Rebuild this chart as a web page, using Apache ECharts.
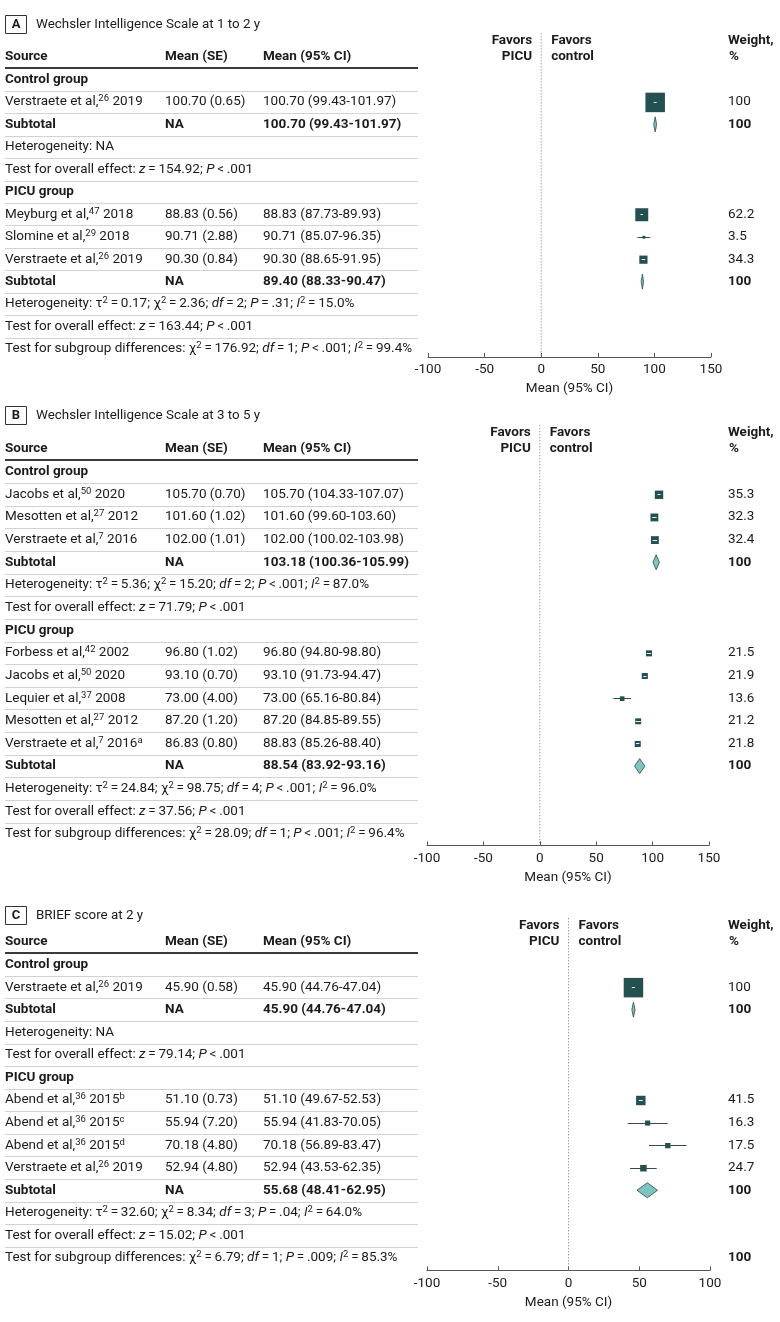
<!DOCTYPE html>
<html><head><meta charset="utf-8">
<script src="https://cdn.jsdelivr.net/npm/echarts@6/dist/echarts.min.js"></script>
<style>html,body{margin:0;padding:0;background:#fff}#c{width:780px;height:1322px}</style>
</head><body><div id="c"></div>
<script>
const FONT = 'Roboto, "Noto Sans", sans-serif';
const T = '\u2009';

// ---------- Panel A ----------
const A_title = 'Wechsler Intelligence Scale at 1 to 2 y';
const A_ctrl_author = ['Verstraete et al,'];
const A_ctrl_ref = ['26'];
const A_ctrl_year = ['2019'];
const A_ctrl_note = [''];
const A_ctrl_mean = [100.70];
const A_ctrl_se = [0.65];
const A_ctrl_lo = [99.43];
const A_ctrl_hi = [101.97];
const A_ctrl_weight = [100];
const A_ctrl_subtotal = [100.70, 99.43, 101.97];
const A_ctrl_het = 'Heterogeneity: NA';
const A_ctrl_test = `Test for overall effect: {i|z}${T}=${T}154.92; {i|P}${T}<${T}.001`;

const A_picu_author = ['Meyburg et al,', 'Slomine et al,', 'Verstraete et al,'];
const A_picu_ref = ['47', '29', '26'];
const A_picu_year = ['2018', '2018', '2019'];
const A_picu_note = ['', '', ''];
const A_picu_mean = [88.83, 90.71, 90.30];
const A_picu_se = [0.56, 2.88, 0.84];
const A_picu_lo = [87.73, 85.07, 88.65];
const A_picu_hi = [89.93, 96.35, 91.95];
const A_picu_weight = [62.2, 3.5, 34.3];
const A_picu_subtotal = [89.40, 88.33, 90.47];
const A_picu_het = `Heterogeneity: τ{sup|2}${T}=${T}0.17; χ{sup|2}${T}=${T}2.36; {i|df}${T}=${T}2; {i|P}${T}=${T}.31; {i|I}{sup|2}${T}=${T}15.0%`;
const A_picu_test = `Test for overall effect: {i|z}${T}=${T}163.44; {i|P}${T}<${T}.001`;
const A_subgroup = `Test for subgroup differences: χ{sup|2}${T}=${T}176.92; {i|df}${T}=${T}1; {i|P}${T}<${T}.001; {i|I}{sup|2}${T}=${T}99.4%`;
const A_subgroup_weight = '';
const A_ticks = [-100, 150, 50];

// ---------- Panel B ----------
const B_title = 'Wechsler Intelligence Scale at 3 to 5 y';
const B_ctrl_author = ['Jacobs et al,', 'Mesotten et al,', 'Verstraete et al,'];
const B_ctrl_ref = ['50', '27', '7'];
const B_ctrl_year = ['2020', '2012', '2016'];
const B_ctrl_note = ['', '', ''];
const B_ctrl_mean = [105.70, 101.60, 102.00];
const B_ctrl_se = [0.70, 1.02, 1.01];
const B_ctrl_lo = [104.33, 99.60, 100.02];
const B_ctrl_hi = [107.07, 103.60, 103.98];
const B_ctrl_weight = [35.3, 32.3, 32.4];
const B_ctrl_subtotal = [103.18, 100.36, 105.99];
const B_ctrl_het = `Heterogeneity: τ{sup|2}${T}=${T}5.36; χ{sup|2}${T}=${T}15.20; {i|df}${T}=${T}2; {i|P}${T}<${T}.001; {i|I}{sup|2}${T}=${T}87.0%`;
const B_ctrl_test = `Test for overall effect: {i|z}${T}=${T}71.79; {i|P}${T}<${T}.001`;

const B_picu_author = ['Forbess et al,', 'Jacobs et al,', 'Lequier et al,', 'Mesotten et al,', 'Verstraete et al,'];
const B_picu_ref = ['42', '50', '37', '27', '7'];
const B_picu_year = ['2002', '2020', '2008', '2012', '2016'];
const B_picu_note = ['', '', '', '', 'a'];
const B_picu_mean = [96.80, 93.10, 73.00, 87.20, 86.83];
const B_picu_ciMean = [96.80, 93.10, 73.00, 87.20, 88.83];
const B_picu_se = [1.02, 0.70, 4.00, 1.20, 0.80];
const B_picu_lo = [94.80, 91.73, 65.16, 84.85, 85.26];
const B_picu_hi = [98.80, 94.47, 80.84, 89.55, 88.40];
const B_picu_weight = [21.5, 21.9, 13.6, 21.2, 21.8];
const B_picu_subtotal = [88.54, 83.92, 93.16];
const B_picu_het = `Heterogeneity: τ{sup|2}${T}=${T}24.84; χ{sup|2}${T}=${T}98.75; {i|df}${T}=${T}4; {i|P}${T}<${T}.001; {i|I}{sup|2}${T}=${T}96.0%`;
const B_picu_test = `Test for overall effect: {i|z}${T}=${T}37.56; {i|P}${T}<${T}.001`;
const B_subgroup = `Test for subgroup differences: χ{sup|2}${T}=${T}28.09; {i|df}${T}=${T}1; {i|P}${T}<${T}.001; {i|I}{sup|2}${T}=${T}96.4%`;
const B_subgroup_weight = '';
const B_ticks = [-100, 150, 50];

// ---------- Panel C ----------
const C_title = 'BRIEF score at 2 y';
const C_ctrl_author = ['Verstraete et al,'];
const C_ctrl_ref = ['26'];
const C_ctrl_year = ['2019'];
const C_ctrl_note = [''];
const C_ctrl_mean = [45.90];
const C_ctrl_se = [0.58];
const C_ctrl_lo = [44.76];
const C_ctrl_hi = [47.04];
const C_ctrl_weight = [100];
const C_ctrl_subtotal = [45.90, 44.76, 47.04];
const C_ctrl_het = 'Heterogeneity: NA';
const C_ctrl_test = `Test for overall effect: {i|z}${T}=${T}79.14; {i|P}${T}<${T}.001`;

const C_picu_author = ['Abend et al,', 'Abend et al,', 'Abend et al,', 'Verstraete et al,'];
const C_picu_ref = ['36', '36', '36', '26'];
const C_picu_year = ['2015', '2015', '2015', '2019'];
const C_picu_note = ['b', 'c', 'd', ''];
const C_picu_mean = [51.10, 55.94, 70.18, 52.94];
const C_picu_se = [0.73, 7.20, 4.80, 4.80];
const C_picu_lo = [49.67, 41.83, 56.89, 43.53];
const C_picu_hi = [52.53, 70.05, 83.47, 62.35];
const C_picu_weight = [41.5, 16.3, 17.5, 24.7];
const C_picu_subtotal = [55.68, 48.41, 62.95];
const C_picu_het = `Heterogeneity: τ{sup|2}${T}=${T}32.60; χ{sup|2}${T}=${T}8.34; {i|df}${T}=${T}3; {i|P}${T}=${T}.04; {i|I}{sup|2}${T}=${T}64.0%`;
const C_picu_test = `Test for overall effect: {i|z}${T}=${T}15.02; {i|P}${T}<${T}.001`;
const C_subgroup = `Test for subgroup differences: χ{sup|2}${T}=${T}6.79; {i|df}${T}=${T}1; {i|P}${T}=${T}.009; {i|I}{sup|2}${T}=${T}85.3%`;
const C_subgroup_weight = '100';
const C_ticks = [-100, 100, 50];

// ---------- styles ----------
const TXT = '#1b1b1b';
const SQ = '#24504f';
const CI_LINE = '#2f4d4d';
const DIA_FILL = '#80c4c2';
const DIA_STROKE = '#2b4747';
const FS = 13.5;
const RICH = {
  sup: { fontFamily: FONT, fontSize: 9.5, fontWeight: 'normal', lineHeight: 10, verticalAlign: 'top', fill: TXT },
  i: { fontFamily: FONT, fontSize: FS, fontStyle: 'italic', fontWeight: 'normal', lineHeight: 16, fill: TXT }
};

function grp(name, author, ref, year, note, mean, se, lo, hi, weight, sub, het, test, ciMean) {
  return { name, author, ref, year, note, mean, se, lo, hi, weight, sub, het, test, ciMean: ciMean || mean };
}

function buildRows(groups, subgroup, subW) {
  const rows = [];
  let r = 0;
  rows.push({ row: r++, kind: 'header' });
  groups.forEach(g => {
    rows.push({ row: r++, kind: 'group', label: g.name });
    g.author.forEach((a, i) => rows.push({
      row: r++, kind: 'study', author: a, ref: g.ref[i], year: g.year[i], note: g.note[i],
      mean: g.mean[i], ciMean: g.ciMean[i], se: g.se[i], lo: g.lo[i], hi: g.hi[i], w: g.weight[i]
    }));
    rows.push({ row: r++, kind: 'subtotal', mean: g.sub[0], lo: g.sub[1], hi: g.sub[2], w: '100' });
    rows.push({ row: r++, kind: 'het', text: g.het });
    rows.push({ row: r++, kind: 'test', text: g.test });
  });
  rows.push({ row: r++, kind: 'subgroup', text: subgroup, w: subW, last: true });
  return rows;
}

const panels = [
  { title: A_title, letter: 'A', titleY: 25, ticks: A_ticks,
    rows: buildRows([
      grp('Control group', A_ctrl_author, A_ctrl_ref, A_ctrl_year, A_ctrl_note, A_ctrl_mean, A_ctrl_se, A_ctrl_lo, A_ctrl_hi, A_ctrl_weight, A_ctrl_subtotal, A_ctrl_het, A_ctrl_test),
      grp('PICU group', A_picu_author, A_picu_ref, A_picu_year, A_picu_note, A_picu_mean, A_picu_se, A_picu_lo, A_picu_hi, A_picu_weight, A_picu_subtotal, A_picu_het, A_picu_test)
    ], A_subgroup, A_subgroup_weight),
    left: 428, width: 283, top: 33.4, height: 323.5, ymin: -1.05, ymax: 13.35 },
  { title: B_title, letter: 'B', titleY: 416, ticks: B_ticks,
    rows: buildRows([
      grp('Control group', B_ctrl_author, B_ctrl_ref, B_ctrl_year, B_ctrl_note, B_ctrl_mean, B_ctrl_se, B_ctrl_lo, B_ctrl_hi, B_ctrl_weight, B_ctrl_subtotal, B_ctrl_het, B_ctrl_test),
      grp('PICU group', B_picu_author, B_picu_ref, B_picu_year, B_picu_note, B_picu_mean, B_picu_se, B_picu_lo, B_picu_hi, B_picu_weight, B_picu_subtotal, B_picu_het, B_picu_test, B_picu_ciMean)
    ], B_subgroup, B_subgroup_weight),
    left: 427, width: 282, top: 425.2, height: 420.2, ymin: -1.05, ymax: 17.5 },
  { title: C_title, letter: 'C', titleY: 916, ticks: C_ticks,
    rows: buildRows([
      grp('Control group', C_ctrl_author, C_ctrl_ref, C_ctrl_year, C_ctrl_note, C_ctrl_mean, C_ctrl_se, C_ctrl_lo, C_ctrl_hi, C_ctrl_weight, C_ctrl_subtotal, C_ctrl_het, C_ctrl_test),
      grp('PICU group', C_picu_author, C_picu_ref, C_picu_year, C_picu_note, C_picu_mean, C_picu_se, C_picu_lo, C_picu_hi, C_picu_weight, C_picu_subtotal, C_picu_het, C_picu_test)
    ], C_subgroup, C_subgroup_weight),
    left: 427, width: 283, top: 918.3, height: 352.1, ymin: -1.05, ymax: 14.55 }
];

const COL_SRC = 5, COL_SE = 165, COL_CI = 263, COL_W = 728, LINE_R = 418;
const f2 = v => v.toFixed(2);

function textEl(x, y, text, bold, align) {
  return {
    type: 'text',
    style: {
      x, y, text, fill: TXT, fontFamily: FONT, fontSize: FS, fontWeight: bold ? 'bold' : 'normal',
      lineHeight: 16, align: align || 'left', verticalAlign: 'middle', rich: RICH
    }
  };
}

function makeRenderer(rows) {
  return function (params, api) {
    const r = rows[params.dataIndex];
    const y = api.coord([0, r.row])[1];
    const step = api.size([0, 1])[1];
    const ch = [];
    const sepY = Math.round(y + step / 2) + 0.5;
    if (r.kind === 'header') {
      const zx = api.coord([0, 0])[0];
      ch.push(textEl(COL_SRC, y, 'Source', true));
      ch.push(textEl(COL_SE, y, 'Mean (SE)', true));
      ch.push(textEl(COL_CI, y, 'Mean (95% CI)', true));
      ch.push(textEl(zx - 9, y - 16, 'Favors', true, 'right'));
      ch.push(textEl(zx - 9, y, 'PICU', true, 'right'));
      ch.push(textEl(zx + 10, y - 16, 'Favors', true));
      ch.push(textEl(zx + 10, y, 'control', true));
      ch.push(textEl(COL_W, y - 16, 'Weight,', true));
      ch.push(textEl(COL_W + 1, y, '%', true));
      ch.push({ type: 'line', shape: { x1: COL_SRC, y1: Math.round(y + step / 2), x2: LINE_R, y2: Math.round(y + step / 2) }, style: { stroke: '#3a3a3a', lineWidth: 2 } });
      return { type: 'group', children: ch };
    }
    if (r.kind === 'group') {
      ch.push(textEl(COL_SRC, y, r.label, true));
    } else if (r.kind === 'study') {
      const src = `${r.author}{sup|${r.ref}} ${r.year}` + (r.note ? `{sup|${r.note}}` : '');
      ch.push(textEl(COL_SRC, y, src, false));
      ch.push(textEl(COL_SE, y, `${f2(r.mean)} (${f2(r.se)})`, false));
      ch.push(textEl(COL_CI, y, `${f2(r.ciMean)} (${f2(r.lo)}-${f2(r.hi)})`, false));
      ch.push(textEl(COL_W, y, String(r.w), false));
      const p = api.coord([r.mean, r.row]);
      const pl = api.coord([r.lo, r.row]);
      const ph = api.coord([r.hi, r.row]);
      const s = 2.3 + 0.172 * r.w;
      const inside = (ph[0] - pl[0]) <= s;
      const ly = Math.round(y) + 0.5;
      if (!inside) ch.push({ type: 'line', shape: { x1: pl[0], y1: ly, x2: ph[0], y2: ly }, style: { stroke: CI_LINE, lineWidth: 1 } });
      ch.push({ type: 'rect', shape: { x: p[0] - s / 2, y: y - s / 2 + 0.5, width: s, height: s }, style: { fill: SQ } });
      if (inside) ch.push({ type: 'line', shape: { x1: pl[0], y1: ly, x2: ph[0], y2: ly }, style: { stroke: '#e4eeee', lineWidth: 1 } });
    } else if (r.kind === 'subtotal') {
      ch.push(textEl(COL_SRC, y, 'Subtotal', true));
      ch.push(textEl(COL_SE, y, 'NA', true));
      ch.push(textEl(COL_CI, y, `${f2(r.mean)} (${f2(r.lo)}-${f2(r.hi)})`, true));
      ch.push(textEl(COL_W, y, r.w, true));
      const p = api.coord([r.mean, r.row]);
      const pl = api.coord([r.lo, r.row]);
      const ph = api.coord([r.hi, r.row]);
      const hh = 7.5;
      ch.push({ type: 'polygon', shape: { points: [[pl[0], y], [p[0], y - hh], [ph[0], y], [p[0], y + hh]] }, style: { fill: DIA_FILL, stroke: DIA_STROKE, lineWidth: 0.8 } });
    } else {
      ch.push(textEl(COL_SRC, y, r.text, false));
      if (r.w) ch.push(textEl(COL_W, y, r.w, true));
    }
    if (!r.last) ch.push({ type: 'line', shape: { x1: COL_SRC, y1: sepY, x2: LINE_R, y2: sepY }, style: { stroke: '#d2d2d2', lineWidth: 1 } });
    return { type: 'group', children: ch };
  };
}

const axisText = { color: TXT, fontFamily: FONT, fontSize: FS };
const option = {
  animation: false,
  backgroundColor: '#fff',
  grid: panels.map(p => ({ left: p.left, width: p.width, top: p.top, height: p.height })),
  xAxis: panels.map((p, i) => ({
    gridIndex: i, type: 'value', position: 'bottom', min: p.ticks[0], max: p.ticks[1], interval: p.ticks[2],
    axisLine: { show: true, onZero: false, lineStyle: { color: '#555', width: 1 } },
    axisTick: { show: true, inside: true, length: 4, lineStyle: { color: '#555' } },
    axisLabel: Object.assign({ margin: 6 }, axisText),
    splitLine: { show: false },
    name: 'Mean (95% CI)', nameLocation: 'middle', nameGap: 25, nameTextStyle: axisText
  })),
  yAxis: panels.map((p, i) => ({ gridIndex: i, type: 'value', inverse: true, min: p.ymin, max: p.ymax, show: false })),
  graphic: panels.map(p => ({
    type: 'group', children: [
      { type: 'rect', shape: { x: 5.5, y: p.titleY - 9.5, width: 21, height: 18 }, style: { fill: '#fff', stroke: '#333', lineWidth: 1 } },
      { type: 'text', style: { x: 16, y: p.titleY, text: p.letter, fill: TXT, fontFamily: FONT, fontSize: 13, fontWeight: 'bold', align: 'center', verticalAlign: 'middle' } },
      { type: 'text', style: { x: 36, y: p.titleY, text: p.title, fill: TXT, fontFamily: FONT, fontSize: 13.4, align: 'left', verticalAlign: 'middle' } }
    ]
  })),
  series: [].concat(
    panels.map((p, i) => ({
      type: 'line', xAxisIndex: i, yAxisIndex: i, data: [[0, p.ymin], [0, p.ymax]], symbol: 'none', silent: true,
      lineStyle: { type: [1, 2], color: '#777', width: 1 }
    })),
    panels.map((p, i) => ({
      type: 'custom', xAxisIndex: i, yAxisIndex: i, clip: false, silent: true,
      data: p.rows.map(r => [0, r.row]),
      renderItem: makeRenderer(p.rows)
    }))
  )
};
const chart = echarts.init(document.getElementById('c'), null, { renderer: 'canvas' });
chart.setOption(option);
</script>
</body></html>
